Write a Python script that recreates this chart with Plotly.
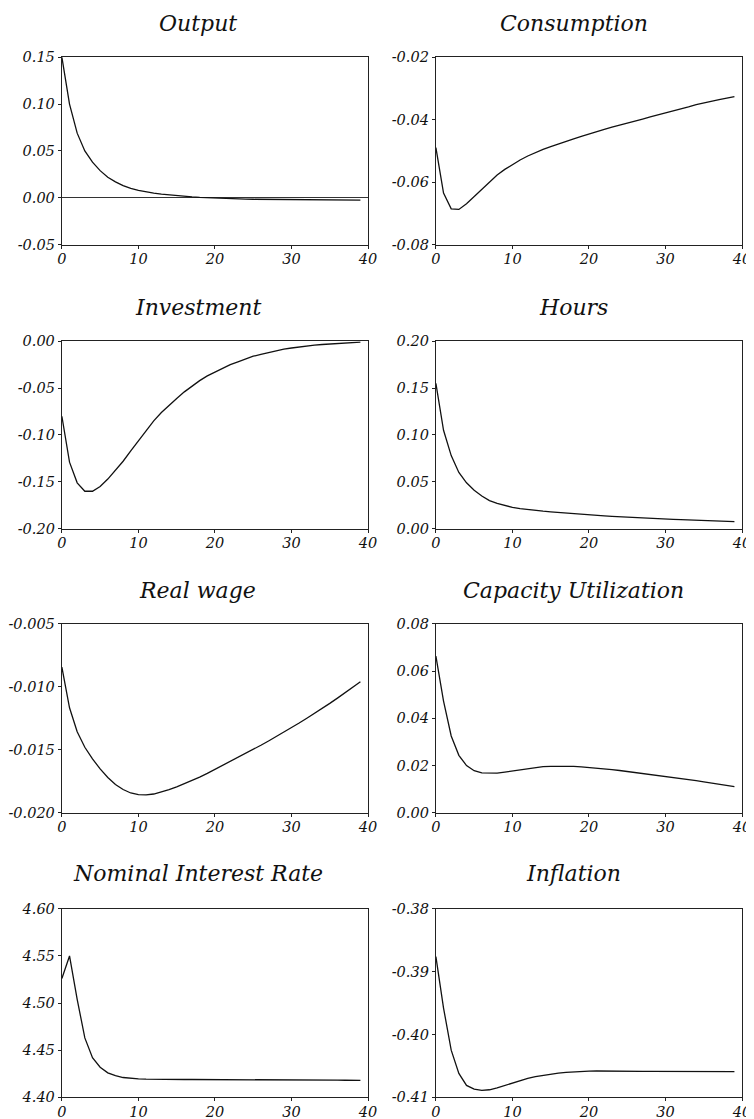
import plotly.graph_objects as go

periods = list(range(40))

titles = ["Output", "Consumption", "Investment", "Hours",
          "Real wage", "Capacity Utilization", "Nominal Interest Rate", "Inflation"]

output = [0.150, 0.100, 0.069, 0.050, 0.038, 0.029, 0.022, 0.017, 0.013, 0.010,
          0.008, 0.0063, 0.0050, 0.0039, 0.0030, 0.0022, 0.0015, 0.0010, 0.0005, 0.0001,
          -0.0003, -0.0006, -0.0009, -0.0011, -0.0013, -0.0015, -0.0016, -0.0018, -0.0019, -0.0020,
          -0.0021, -0.0022, -0.0022, -0.0023, -0.0023, -0.0024, -0.0024, -0.0024, -0.0025, -0.0025]

consumption = [-0.0489, -0.0635, -0.0685, -0.0687, -0.0669, -0.0646, -0.0621, -0.0598, -0.0577, -0.0559,
               -0.0543, -0.0529, -0.0516, -0.0505, -0.0495, -0.0486, -0.0477, -0.0469, -0.0461, -0.0453,
               -0.0445, -0.0438, -0.0431, -0.0424, -0.0418, -0.0411, -0.0404, -0.0398, -0.0391, -0.0385,
               -0.0378, -0.0372, -0.0365, -0.0359, -0.0352, -0.0346, -0.0341, -0.0336, -0.0331, -0.0326]

investment = [-0.080, -0.129, -0.151, -0.160, -0.160, -0.155, -0.147, -0.138, -0.128, -0.117,
              -0.106, -0.095, -0.085, -0.076, -0.068, -0.061, -0.054, -0.048, -0.042, -0.037,
              -0.033, -0.029, -0.025, -0.022, -0.019, -0.016, -0.014, -0.012, -0.010, -0.0085,
              -0.0072, -0.0060, -0.0050, -0.0042, -0.0035, -0.0029, -0.0023, -0.0018, -0.0013, -0.0009]

hours = [0.155, 0.105, 0.078, 0.060, 0.049, 0.041, 0.035, 0.030, 0.027, 0.0245,
         0.0228, 0.0215, 0.0204, 0.0195, 0.0187, 0.0180, 0.0173, 0.0166, 0.0160, 0.0154,
         0.0148, 0.0143, 0.0138, 0.0133, 0.0128, 0.0123, 0.0119, 0.0115, 0.0111, 0.0107,
         0.0104, 0.0100, 0.0097, 0.0094, 0.0091, 0.0088, 0.0085, 0.0082, 0.0079, 0.0077]

real_wage = [-0.00844, -0.01167, -0.01357, -0.01480, -0.01572, -0.01652, -0.01720, -0.01775, -0.01815, -0.01843,
             -0.01856, -0.01858, -0.01851, -0.01836, -0.01817, -0.01794, -0.01770, -0.01745, -0.01717, -0.01687,
             -0.01656, -0.01625, -0.01593, -0.01561, -0.01529, -0.01497, -0.01464, -0.01430, -0.01396, -0.01361,
             -0.01325, -0.01288, -0.01250, -0.01212, -0.01172, -0.01132, -0.01090, -0.01047, -0.01004, -0.00960]

capacity = [0.0663, 0.0473, 0.0325, 0.0243, 0.0200, 0.0178, 0.0169, 0.0167, 0.0168, 0.0172,
            0.0177, 0.0183, 0.0188, 0.0192, 0.0195, 0.0196, 0.0197, 0.0197, 0.0196, 0.0194,
            0.0192, 0.0189, 0.0186, 0.0183, 0.0179, 0.0175, 0.0171, 0.0167, 0.0163, 0.0159,
            0.0155, 0.0150, 0.0146, 0.0141, 0.0136, 0.0131, 0.0126, 0.0121, 0.0116, 0.0111]

nominal_rate = [4.526, 4.550, 4.504, 4.463, 4.442, 4.432, 4.426, 4.423, 4.421, 4.420,
                4.4195, 4.4192, 4.4190, 4.4190, 4.4190, 4.4190, 4.4189, 4.4189, 4.4189, 4.4188,
                4.4188, 4.4188, 4.4188, 4.4187, 4.4187, 4.4187, 4.4187, 4.4186, 4.4186, 4.4186,
                4.4185, 4.4185, 4.4184, 4.4184, 4.4183, 4.4182, 4.4182, 4.4181, 4.4181, 4.4180]

inflation = [-0.38760, -0.39580, -0.40250, -0.40620, -0.40810, -0.40870, -0.40890, -0.40880, -0.40850, -0.40810,
             -0.40770, -0.40733, -0.40700, -0.40672, -0.40649, -0.40630, -0.40614, -0.40602, -0.40593, -0.40587,
             -0.40583, -0.40581, -0.40580, -0.40581, -0.40582, -0.40584, -0.40585, -0.40586, -0.40587, -0.40588,
             -0.40589, -0.40589, -0.40590, -0.40590, -0.40590, -0.40591, -0.40591, -0.40591, -0.40592, -0.40592]

series = [output, consumption, investment, hours, real_wage, capacity, nominal_rate, inflation]

x_ticks = [0, 10, 20, 30, 40]
x_ticktext = ["0", "10", "20", "30", "40"]

y_ticks = [
    [-0.05, 0.00, 0.05, 0.10, 0.15],
    [-0.08, -0.06, -0.04, -0.02],
    [-0.20, -0.15, -0.10, -0.05, 0.00],
    [0.00, 0.05, 0.10, 0.15, 0.20],
    [-0.020, -0.015, -0.010, -0.005],
    [0.00, 0.02, 0.04, 0.06, 0.08],
    [4.40, 4.45, 4.50, 4.55, 4.60],
    [-0.41, -0.40, -0.39, -0.38],
]
y_ticktext = [
    ["-0.05", "0.00", "0.05", "0.10", "0.15"],
    ["-0.08", "-0.06", "-0.04", "-0.02"],
    ["-0.20", "-0.15", "-0.10", "-0.05", "0.00"],
    ["0.00", "0.05", "0.10", "0.15", "0.20"],
    ["-0.020", "-0.015", "-0.010", "-0.005"],
    ["0.00", "0.02", "0.04", "0.06", "0.08"],
    ["4.40", "4.45", "4.50", "4.55", "4.60"],
    ["-0.41", "-0.40", "-0.39", "-0.38"],
]

W, H = 754, 1119
# target pixel positions in the final picture (page is shown with small offset/scale)
OX, SX = 11.0, 0.984
OY, SY = 15.3, 0.9856


def px_x(v):
    return (v - OX) / SX


def px_y(v):
    return (v - OY) / SY


col_px = [(60, 367), (435, 742)]
row_px = [(56.5, 244), (340.5, 528), (623, 812), (908, 1096.5)]
title_y_px = [23, 307, 590, 873]
title_x_px = [196, 573]

FONT = "DejaVu Serif"
tick_font = dict(family=FONT, size=14.5, color="#111", style="italic")
title_font = dict(family=FONT, size=22, color="#111", style="italic")

fig = go.Figure()
annotations = []
for i, (name, ys) in enumerate(zip(titles, series)):
    r, c = divmod(i, 2)
    n = i + 1
    xa = "xaxis" if n == 1 else f"xaxis{n}"
    ya = "yaxis" if n == 1 else f"yaxis{n}"
    xref = "x" if n == 1 else f"x{n}"
    yref = "y" if n == 1 else f"y{n}"
    fig.add_trace(go.Scatter(x=periods, y=ys, mode="lines",
                             line=dict(color="#111", width=1.3),
                             xaxis=xref, yaxis=yref, showlegend=False))
    x0, x1 = px_x(col_px[c][0]), px_x(col_px[c][1])
    y0, y1 = px_y(row_px[r][0]), px_y(row_px[r][1])
    yt = y_ticks[i]
    fig.layout[xa] = dict(domain=[x0 / W, min(x1 / W, 1.0)], anchor=yref, range=[0, 40],
                          tickvals=x_ticks, ticktext=[f"<i>{t}</i>" for t in x_ticktext],
                          ticks="outside", ticklen=3, tickwidth=1, tickcolor="#222",
                          ticklabelstandoff=-2,
                          showline=True, linecolor="#222", linewidth=1.2, mirror=True,
                          showgrid=False, zeroline=False, tickfont=tick_font)
    fig.layout[ya] = dict(domain=[1 - y1 / H, 1 - y0 / H], anchor=xref,
                          range=[yt[0], yt[-1]],
                          tickvals=yt, ticktext=[f"<i>{t}</i>" for t in y_ticktext[i]],
                          ticks="outside", ticklen=3, tickwidth=1, tickcolor="#222",
                          showline=True, linecolor="#222", linewidth=1.2, mirror=True,
                          showgrid=False, zeroline=(i == 0), zerolinecolor="#333",
                          zerolinewidth=1, tickfont=tick_font)
    annotations.append(dict(text=f"<i>{name}</i>", xref="paper", yref="paper",
                            x=px_x(title_x_px[c]) / W, y=1 - px_y(title_y_px[r]) / H,
                            xanchor="center", yanchor="middle", showarrow=False,
                            font=title_font))

fig.update_layout(width=W, height=H, margin=dict(l=0, r=0, t=0, b=0),
                  paper_bgcolor="white", plot_bgcolor="white",
                  annotations=annotations)

fig.write_html("out.html")
